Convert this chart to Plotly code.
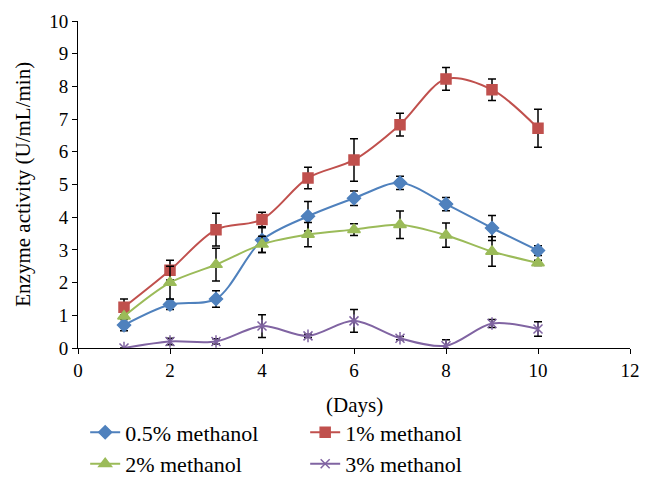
import plotly.graph_objects as go

days = [1, 2, 3, 4, 5, 6, 7, 8, 9, 10]

m05 = [0.70, 1.33, 1.50, 3.30, 4.03, 4.58, 5.05, 4.40, 3.67, 2.98]
m05_err = [0.17, 0.15, 0.25, 0.38, 0.45, 0.22, 0.20, 0.20, 0.38, 0.15]

m1 = [1.25, 2.38, 3.62, 3.93, 5.20, 5.75, 6.83, 8.23, 7.90, 6.72]
m1_err = [0.25, 0.30, 0.50, 0.22, 0.33, 0.65, 0.35, 0.35, 0.33, 0.58]

m2 = [0.97, 2.00, 2.55, 3.17, 3.47, 3.62, 3.77, 3.45, 2.95, 2.60]
m2_err = [0.05, 0.50, 0.50, 0.25, 0.37, 0.18, 0.42, 0.37, 0.45, 0.08]

m3 = [0.00, 0.20, 0.20, 0.67, 0.37, 0.83, 0.30, 0.07, 0.75, 0.58]
m3_err = [0.00, 0.10, 0.08, 0.35, 0.05, 0.35, 0.05, 0.18, 0.12, 0.22]

names = ["0.5% methanol", "1% methanol", "2% methanol", "3% methanol"]
colors = ["#4F81BD", "#C0504D", "#9BBB59", "#8064A2"]
symbols = ["diamond", "square", "triangle-up", "x-thin-open"]
sizes = [10, 10, 11, 9]
series = [m05, m1, m2, m3]
errs = [m05_err, m1_err, m2_err, m3_err]

x_title = "(Days)"
y_title = "Enzyme activity (U/mL/min)"

fig = go.Figure()
for name, c, s, sz, y, e in zip(names, colors, symbols, sizes, series, errs):
    fig.add_trace(go.Scatter(
        x=days, y=y, name=name, mode="lines+markers",
        line=dict(color=c, width=2, shape="spline", smoothing=0.9),
        marker=dict(symbol=s, size=sz, color=c, line=dict(color=c, width=1.5)),
        error_y=dict(type="data", array=e, color="black", thickness=1.5, width=4),
    ))
# vertical stroke to turn the x into a star marker
fig.add_trace(go.Scatter(
    x=days, y=m3, mode="markers", showlegend=False, hoverinfo="skip",
    marker=dict(symbol="line-ns-open", size=9, color=colors[3], line=dict(color=colors[3], width=1.5)),
))

tick_font = dict(family="Liberation Serif", size=19, color="black")
title_font = dict(family="Liberation Serif", size=21, color="black")
fig.update_layout(
    width=646, height=490,
    margin=dict(l=70, r=24, t=13, b=147),
    paper_bgcolor="white", plot_bgcolor="white",
    font=tick_font,
    showlegend=True,
    legend=dict(orientation="h", x=0.013, y=-0.194, xanchor="left", yanchor="top",
                entrywidth=175, entrywidthmode="pixels",
                font=dict(family="Liberation Serif", size=22, color="black"),
                traceorder="normal"),
    xaxis=dict(range=[0, 12], dtick=2, showline=True, linecolor="black", linewidth=1,
               ticks="outside", ticklen=5, tickcolor="black", showgrid=False, zeroline=False,
               automargin=False, tickfont=tick_font),
    yaxis=dict(range=[0, 10], dtick=1, showline=True, linecolor="black", linewidth=1,
               ticks="outside", ticklen=5, tickcolor="black", showgrid=False, zeroline=False,
               automargin=False, tickfont=tick_font),
    annotations=[
        dict(text=x_title, xref="paper", yref="paper", x=0.5, y=-0.173,
             xanchor="center", yanchor="middle", showarrow=False, font=title_font),
        dict(text=y_title, xref="paper", yref="paper", x=-0.101, y=0.5, textangle=-90,
             xanchor="center", yanchor="middle", showarrow=False, font=title_font),
    ],
)
fig.write_html("out.html")
